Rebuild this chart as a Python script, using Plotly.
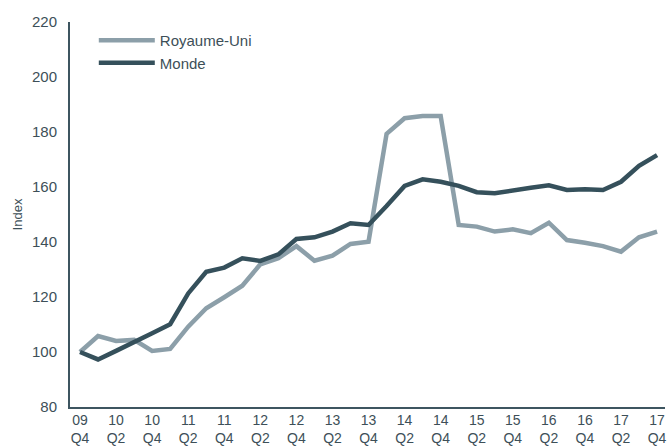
import plotly.graph_objects as go

quarters = ["09 Q4", "10 Q1", "10 Q2", "10 Q3", "10 Q4", "11 Q1", "11 Q2", "11 Q3", "11 Q4",
            "12 Q1", "12 Q2", "12 Q3", "12 Q4", "13 Q1", "13 Q2", "13 Q3", "13 Q4",
            "14 Q1", "14 Q2", "14 Q3", "14 Q4", "15 Q1", "15 Q2", "15 Q3", "15 Q4",
            "16 Q1", "16 Q2", "16 Q3", "16 Q4", "17 Q1", "17 Q2", "17 Q3", "17 Q4"]

royaume_uni = [100, 105.8, 104.0, 104.4, 100.4, 101.1, 109.2, 115.9, 119.9, 124.1, 131.9, 134.1,
               138.5, 133.2, 135.0, 139.3, 140.1, 179.3, 185.0, 185.8, 185.8, 146.2, 145.6,
               143.8, 144.6, 143.2, 147.0, 140.7, 139.7, 138.5, 136.5, 141.7, 143.8]

monde = [100, 97.3, 100.4, 103.8, 106.8, 110.1, 121.3, 129.2, 130.7, 134.1, 133.1, 135.5,
         141.1, 141.7, 143.8, 146.8, 146.2, 153.1, 160.4, 162.8, 161.9, 160.4, 158.1,
         157.7, 158.9, 159.7, 160.6, 158.9, 159.2, 158.9, 161.9, 167.7, 171.6]

tick_idx = list(range(0, len(quarters), 2))
tick_text = [quarters[i].replace(" ", "<br>") for i in tick_idx]
y_ticks = [80, 100, 120, 140, 160, 180, 200, 220]

x = list(range(len(quarters)))
text_color = "#3d4f58"
axis_color = "#3d5560"

fig = go.Figure()
fig.add_trace(go.Scatter(x=x, y=royaume_uni, mode="lines", name="Royaume-Uni",
                         line=dict(color="#8c9fa9", width=4.5)))
fig.add_trace(go.Scatter(x=x, y=monde, mode="lines", name="Monde",
                         line=dict(color="#35505b", width=4.5)))

fig.update_layout(
    width=670, height=447,
    margin=dict(l=70, r=5, t=22, b=40),
    plot_bgcolor="white", paper_bgcolor="white",
    font=dict(family="Liberation Sans, Arial, sans-serif", size=14, color=text_color),
    showlegend=True,
    legend=dict(x=0.04, y=0.995, xanchor="left", yanchor="top",
                bgcolor="rgba(0,0,0,0)", font=dict(size=15, color=text_color),
                itemwidth=56, tracegroupgap=0),
    xaxis=dict(range=[-0.555, 32.44], tickmode="array", tickvals=tick_idx, ticktext=tick_text,
               showgrid=False, zeroline=False, showline=True, linecolor=axis_color, linewidth=2,
               ticks="", ticklabelstandoff=-1, automargin=False,
               tickfont=dict(size=14, color=text_color)),
    yaxis=dict(range=[80, 220], tickmode="array", tickvals=y_ticks,
               showgrid=False, zeroline=False, showline=True, linecolor=axis_color, linewidth=2,
               ticks="", ticklabelstandoff=8, automargin=False,
               tickfont=dict(size=15, color=text_color),
               title=dict(text="Index", font=dict(size=13, color=text_color), standoff=6)),
)

fig.write_html(
    "out.html",
    config={"displayModeBar": False},
    post_script="document.body.style.margin='0';document.body.style.overflow='hidden';",
)
